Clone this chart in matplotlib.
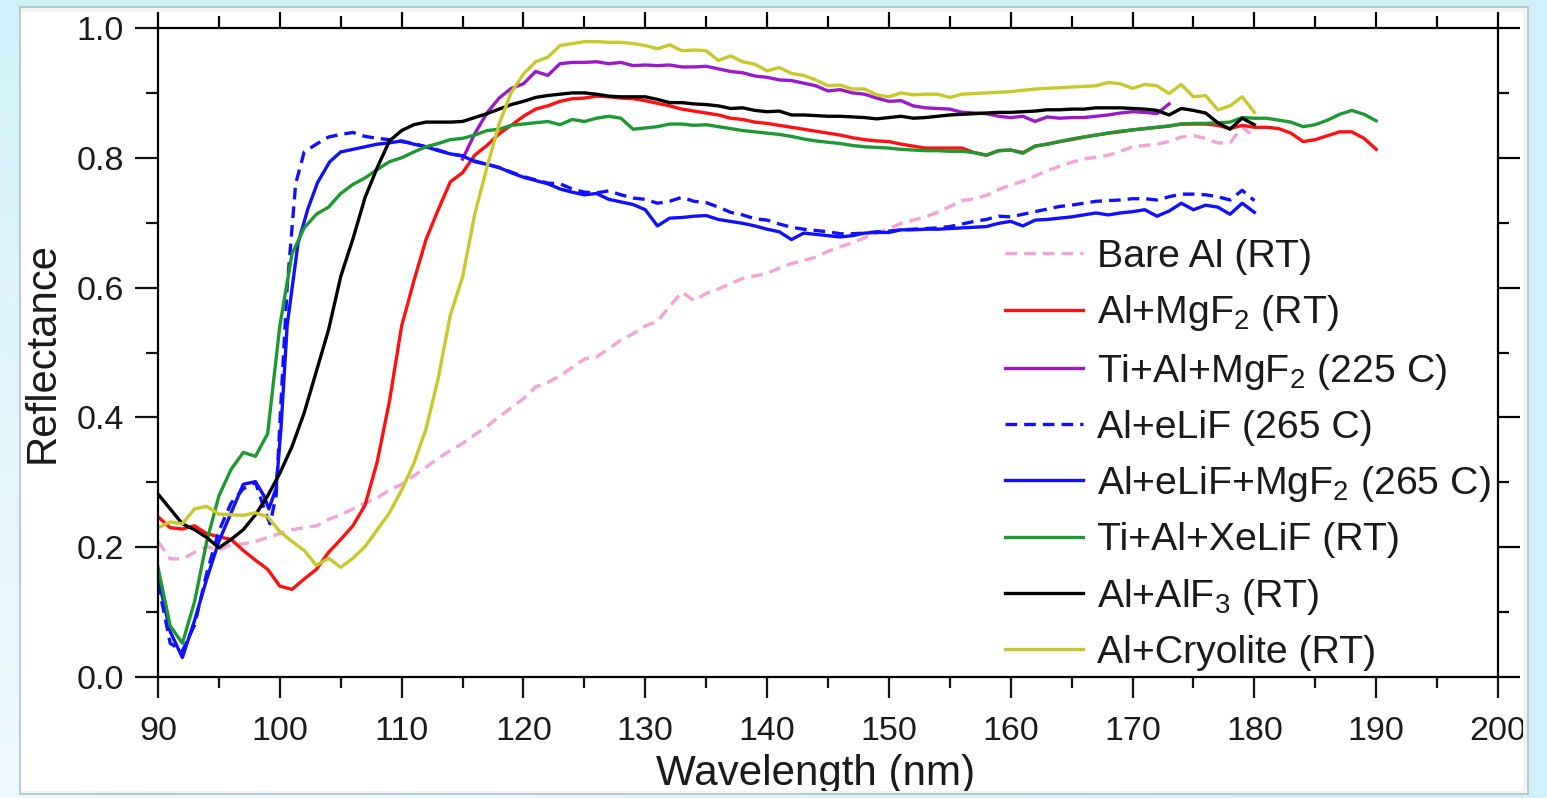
import numpy as np
import matplotlib
matplotlib.use('Agg')
import matplotlib.pyplot as plt
from matplotlib.patches import Rectangle
from matplotlib.ticker import FixedLocator

plt.rcParams['font.family'] = ['Liberation Sans', 'DejaVu Sans']
plt.rcParams['mathtext.fontset'] = 'custom'
plt.rcParams['mathtext.rm'] = 'Liberation Sans'
plt.rcParams['mathtext.it'] = 'Liberation Sans'
plt.rcParams['mathtext.default'] = 'regular'

# ---------------- data ----------------
wl_bare = list(range(90, 181))
r_bare = [.209, .182, .182, .192, .201, .195, .204, .205, .209, .215, .221, .227, .230, .233, .243, .250,
          .259, .268, .276, .288, .297, .310, .323, .337, .349, .360, .373, .386, .401, .415, .429, .447,
          .454, .464, .477, .490, .493, .506, .519, .529, .541, .548, .571, .593, .580, .591, .598, .606,
          .614, .618, .622, .630, .637, .642, .647, .656, .663, .669, .677, .684, .691, .699, .704, .709,
          .716, .725, .734, .737, .742, .751, .758, .764, .772, .780, .787, .793, .798, .801, .804, .810,
          .817, .819, .821, .825, .832, .834, .830, .823, .823, .847, .833]

wl_mgf2 = list(range(90, 191))
r_mgf2 = [.247, .230, .228, .233, .221, .216, .212, .195, .180, .166, .140, .135, .151, .166, .192, .212,
          .233, .265, .332, .425, .541, .610, .674, .720, .763, .777, .804, .819, .837, .850, .864, .875,
          .880, .887, .891, .892, .895, .894, .892, .891, .888, .884, .880, .875, .872, .869, .866, .861,
          .859, .855, .853, .850, .847, .844, .841, .838, .835, .831, .828, .826, .825, .821, .818, .815,
          .815, .815, .815, .808, .804, .811, .812, .808, .818, .821, .825, .828, .832, .835, .838, .840,
          .843, .845, .847, .849, .852, .852, .852, .850, .845, .850, .847, .847, .845, .838, .825, .828,
          .834, .840, .840, .830, .813]

wl_ti_mgf2 = list(range(115, 174))
r_ti_mgf2 = [.798, .837, .869, .892, .907, .914, .933, .927, .945, .947, .947, .948, .945, .947, .942,
             .943, .942, .943, .940, .940, .941, .937, .933, .931, .926, .924, .920, .919, .915, .911,
             .903, .905, .900, .898, .892, .887, .888, .880, .877, .876, .875, .870, .869, .868, .864,
             .862, .864, .856, .863, .861, .862, .862, .864, .866, .869, .871, .870, .868, .883]

wl_elif = [90, 91, 92, 93, 94, 95, 96, 97, 98, 98.7, 99.2, 99.7, 100.1, 100.6, 101.3] + list(range(102, 181))
r_elif = [.145, .052, .040, .080, .160, .225, .268, .290, .300, .260, .236, .280, .425, .600, .760,
          .809, .821, .832, .836, .839, .833, .830, .828, .825, .822, .817, .812, .806, .803, .795, .790,
          .785, .778, .771, .766, .761, .760, .752, .747, .746, .749, .743, .738, .736, .730, .733, .739,
          .733, .731, .724, .716, .712, .706, .704, .698, .693, .690, .688, .686, .683, .683, .684, .686,
          .687, .689, .690, .691, .692, .694, .698, .702, .705, .710, .709, .713, .717, .721, .725, .727,
          .730, .733, .734, .735, .737, .737, .735, .740, .744, .744, .743, .740, .735, .750, .734]

wl_elif_mgf2 = [90, 91, 92, 93, 94, 95, 96, 97, 98, 98.7, 99.1, 99.7, 100.1, 100.6, 101.5, 102.3,
                103.1, 104.1] + list(range(105, 181))
r_elif_mgf2 = [.154, .070, .030, .087, .151, .209, .253, .297, .301, .279, .259, .291, .384, .541, .669,
               .721, .762, .794, .809, .813, .817, .821, .823, .826, .821, .817, .811, .806, .803, .794,
               .790, .785, .777, .770, .765, .760, .752, .747, .743, .745, .736, .732, .728, .720, .695,
               .707, .708, .710, .711, .705, .702, .699, .695, .690, .686, .674, .684, .682, .680, .678,
               .680, .684, .685, .685, .689, .689, .690, .690, .691, .692, .693, .694, .699, .702, .695,
               .704, .705, .707, .709, .712, .715, .712, .715, .717, .720, .710, .718, .730, .720, .727,
               .724, .713, .730, .716]

wl_xelif = list(range(90, 191))
r_xelif = [.169, .079, .052, .116, .209, .279, .320, .346, .340, .375, .541, .652, .692, .713, .724, .745,
           .759, .769, .782, .794, .800, .809, .817, .822, .828, .830, .835, .842, .844, .850, .852, .854,
           .856, .851, .859, .856, .861, .864, .861, .844, .846, .848, .852, .852, .850, .851, .848, .845,
           .842, .840, .838, .836, .833, .829, .826, .824, .822, .819, .817, .816, .815, .813, .812, .811,
           .811, .810, .810, .808, .804, .811, .812, .807, .818, .821, .825, .829, .832, .835, .838, .841,
           .843, .845, .847, .849, .852, .853, .853, .854, .855, .862, .861, .861, .858, .855, .848, .851,
           .858, .867, .873, .867, .857]

wl_alf3 = list(range(90, 181))
r_alf3 = [.282, .259, .236, .227, .215, .199, .212, .227, .250, .279, .314, .355, .407, .471, .535, .617,
          .675, .739, .785, .826, .842, .851, .855, .855, .855, .856, .862, .868, .875, .882, .887, .893,
          .896, .898, .900, .900, .898, .895, .894, .894, .894, .890, .885, .885, .883, .882, .880, .876,
          .877, .873, .871, .872, .866, .866, .865, .864, .864, .863, .862, .860, .862, .864, .861, .862,
          .864, .866, .867, .868, .869, .870, .870, .871, .872, .874, .874, .875, .875, .877, .877, .877,
          .876, .875, .873, .866, .876, .873, .869, .854, .844, .861, .851]

wl_cryo = list(range(90, 181))
r_cryo = [.230, .239, .236, .259, .263, .251, .250, .249, .253, .247, .224, .209, .195, .172, .183, .169,
          .183, .201, .227, .253, .288, .329, .382, .460, .558, .616, .713, .785, .852, .901, .929, .948,
          .955, .973, .976, .979, .979, .978, .978, .976, .973, .968, .974, .965, .966, .965, .950, .957,
          .948, .944, .934, .939, .930, .927, .920, .911, .912, .906, .906, .897, .894, .900, .897, .898,
          .898, .893, .898, .899, .900, .901, .902, .904, .906, .907, .908, .909, .910, .911, .916, .914,
          .907, .913, .911, .899, .913, .894, .896, .874, .880, .894, .870]

series = [
    (wl_bare, r_bare, 'Bare Al (RT)', '#f5a3d6', 'dash'),
    (wl_mgf2, r_mgf2, 'Al+MgF$_2$ (RT)', '#ff1010', 'solid'),
    (wl_ti_mgf2, r_ti_mgf2, 'Ti+Al+MgF$_2$ (225 C)', '#9a1acb', 'solid'),
    (wl_elif, r_elif, 'Al+eLiF (265 C)', '#1010ff', 'dash'),
    (wl_elif_mgf2, r_elif_mgf2, 'Al+eLiF+MgF$_2$ (265 C)', '#1010ff', 'solid'),
    (wl_xelif, r_xelif, 'Ti+Al+XeLiF (RT)', '#1c9a30', 'solid'),
    (wl_alf3, r_alf3, 'Al+AlF$_3$ (RT)', '#000000', 'solid'),
    (wl_cryo, r_cryo, 'Al+Cryolite (RT)', '#c8c82a', 'solid'),
]

x_major = list(range(90, 201, 10))
x_minor = list(range(95, 200, 10))
y_major = [0.0, 0.2, 0.4, 0.6, 0.8, 1.0]
y_minor = [0.1, 0.3, 0.5, 0.7, 0.9]

# ---------------- figure ----------------
W, H = 1547, 798
fig = plt.figure(figsize=(W / 100, H / 100), dpi=100)
fig.patch.set_facecolor('white')

ax = fig.add_axes([158 / W, 1 - 677 / H, (1498 - 158) / W, (677 - 28) / H])
ax.set_facecolor('white')

for wl, r, lab, col, ls in series:
    line, = ax.plot(wl, r, color=col, lw=2.4, label=lab, solid_joinstyle='round')
    if ls == 'dash':
        line.set_dashes([3.5, 2.1])

ax.set_xlim(90, 200)
ax.set_ylim(0, 1)
ax.set_xticks(x_major)
ax.set_xticks(x_minor, minor=True)
ax.set_yticks(y_major)
ax.set_yticks(y_minor, minor=True)
ax.set_yticklabels([f'{v:.1f}' for v in y_major])

for s in ax.spines.values():
    s.set_linewidth(1.6)
ax.spines['top'].set_visible(False)
ax.spines['right'].set_visible(False)

ax.tick_params(axis='both', which='both', direction='out', width=1.6, colors='#111111',
               labelsize=24.5, labelcolor='#1a1a1a')
ax.tick_params(axis='x', which='major', length=15.2, pad=13.0)
ax.tick_params(axis='x', which='minor', length=8.0)
ax.tick_params(axis='y', which='major', length=16.5, pad=8.0)
ax.tick_params(axis='y', which='minor', length=8.6)

secx = ax.secondary_xaxis('top')
secx.set_xticks(x_major)
secx.xaxis.set_minor_locator(FixedLocator(x_minor))
secx.tick_params(which='major', direction='out', length=11.5, width=1.6, labeltop=False)
secx.tick_params(which='minor', direction='out', length=8.6, width=1.6)
secx.spines['top'].set_linewidth(1.6)

secy = ax.secondary_yaxis('right')
secy.set_yticks(y_major)
secy.yaxis.set_minor_locator(FixedLocator(y_minor))
secy.tick_params(which='major', direction='out', length=15.8, width=1.6, labelright=False)
secy.tick_params(which='minor', direction='out', length=7.9, width=1.6)
secy.spines['right'].set_linewidth(1.6)

ax.set_xlabel('Wavelength (nm)', fontsize=30.3, color='#1a1a1a')
ax.xaxis.set_label_coords((816 - 158) / 1340, -(754 - 677) / 649)
ax.set_ylabel('Reflectance', fontsize=30.2, color='#1a1a1a')
ax.yaxis.set_label_coords((63 - 158) / 1340, 0.5)

leg = ax.legend(loc='upper left', bbox_to_anchor=(1005 / W, 1 - 239 / H),
                bbox_transform=fig.transFigure, frameon=False, fontsize=28.3,
                handlelength=1.98, handletextpad=0.36, labelspacing=0.465,
                borderpad=0, borderaxespad=0)
for t in leg.get_texts():
    t.set_color('#1a1a1a')

# ---------------- decorative frame ----------------
yy, xx = np.mgrid[0:H, 0:W]
base = np.array([202, 238, 249]) / 255.0
light = np.clip(0.15 + 0.55 * (yy / H) * np.clip(1 - xx / W * 1.2, 0, 1), 0, 1)
rgba = np.zeros((H, W, 4))
for k in range(3):
    rgba[..., k] = base[k] + (1 - base[k]) * light
rgba[..., 3] = 1.0
strip = (xx >= 20) & (xx <= 1527) & (yy >= 7) & (yy <= 793)
rgba[strip, 0:3] = np.array([238, 243, 244]) / 255.0
inside = (xx >= 20) & (xx <= 1522) & (yy >= 12) & (yy <= 790)
rgba[inside, 3] = 0.0

bg = fig.add_axes([0, 0, 1, 1], zorder=10)
bg.imshow(rgba, extent=(0, W, H, 0), aspect='auto', interpolation='nearest')
bg.add_patch(Rectangle((19.5, 6.5), 1508, 787, fill=False, edgecolor='#b3c2c7', lw=1.2))
bg.set_xlim(0, W)
bg.set_ylim(H, 0)
bg.axis('off')
bg.patch.set_visible(False)

fig.savefig('out.png', dpi=100, facecolor=fig.get_facecolor())
